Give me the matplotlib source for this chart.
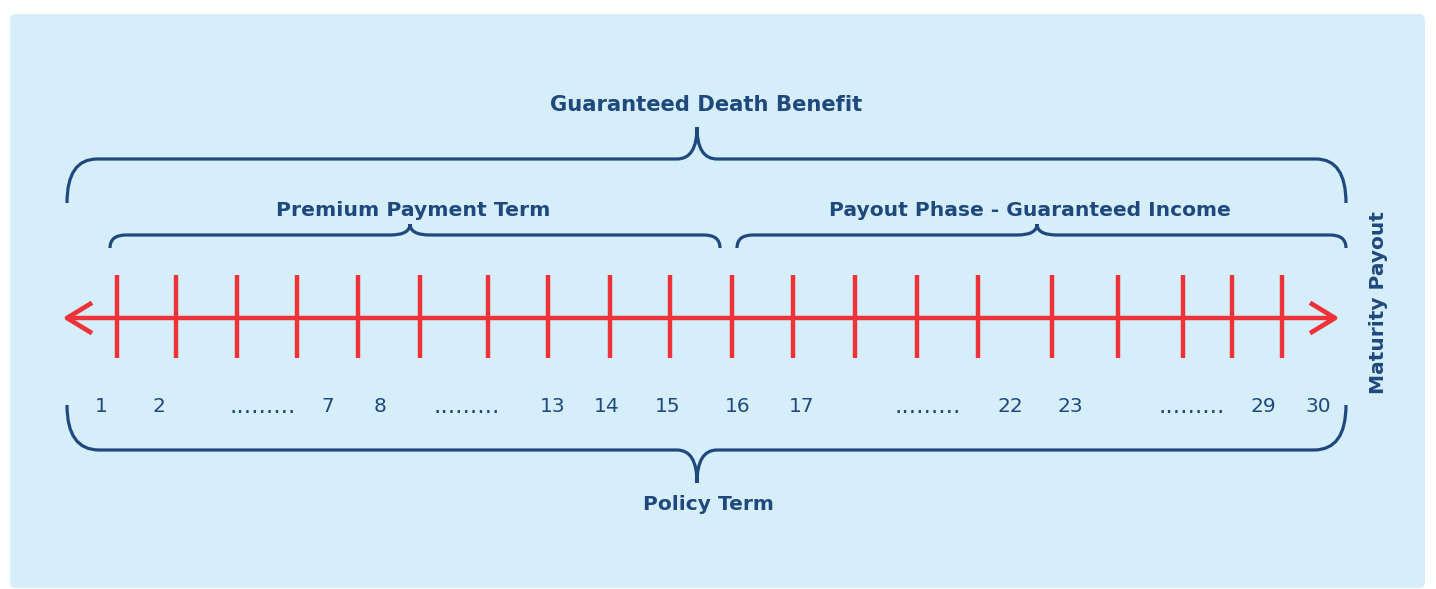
import matplotlib.pyplot as plt
from matplotlib.path import Path
from matplotlib.patches import PathPatch, FancyBboxPatch

# timeline ticks (x in pixels of the 1436x589 canvas)
tick_x = [117, 176, 237, 297, 358, 420, 488, 548, 610, 670,
          732, 793, 855, 917, 978, 1052, 1118, 1183, 1232, 1282]

# year labels under the timeline
year_labels = ['1', '2', '.........', '7', '8', '.........', '13', '14', '15',
               '16', '17', '.........', '22', '23', '.........', '29', '30']
year_x = [101, 159, 263, 328, 380, 467, 553, 607, 668,
          738, 802, 928, 1010, 1070, 1192, 1263, 1318]

# braces: (x_left, x_right, x_tip, y_line, y_end, y_tip, corner_dx)
braces = [
    (67, 1346, 697, 159, 203, 127, 30),   # Guaranteed Death Benefit
    (110, 720, 410, 235, 248, 224, 16),   # Premium Payment Term
    (737, 1346, 1037, 235, 248, 224, 16), # Payout Phase
    (67, 1346, 697, 450, 405, 483, 32),   # Policy Term
]
brace_titles = ['Guaranteed Death Benefit', 'Premium Payment Term',
                'Payout Phase - Guaranteed Income', 'Policy Term']
title_pos = [(706, 105), (413, 210), (1030, 210), (708, 505)]
title_size = [15.2, 14.7, 14.6, 14.6]

navy = '#1f497d'
red = '#ee3338'
bg = '#d6eefa'

plt.close('all')
fig = plt.figure(figsize=(14.36, 5.89), dpi=100)
ax = fig.add_axes([0, 0, 1, 1])
ax.set_xlim(0, 1436)
ax.set_ylim(589, 0)
ax.axis('off')

ax.add_patch(FancyBboxPatch((10, 14), 1415, 574, boxstyle='round,pad=0,rounding_size=6',
                            facecolor=bg, edgecolor='none'))


def brace(x0, x1, xm, y, y_end, y_tip, r, tw=20):
    # left end -> corner -> line -> tip, then tip -> line -> corner -> right end
    verts = [(x0, y_end), (x0, y), (x0 + r, y),
             (xm - tw, y), (xm, y), (xm, y_tip),
             (xm, y_tip), (xm, y), (xm + tw, y),
             (x1 - r, y), (x1, y), (x1, y_end)]
    codes = [Path.MOVETO, Path.CURVE3, Path.CURVE3,
             Path.LINETO, Path.CURVE3, Path.CURVE3,
             Path.MOVETO, Path.CURVE3, Path.CURVE3,
             Path.LINETO, Path.CURVE3, Path.CURVE3]
    ax.add_patch(PathPatch(Path(verts, codes), facecolor='none', edgecolor=navy,
                           lw=2.3, capstyle='butt'))


for b in braces:
    brace(*b)

for t, (x, y), s in zip(brace_titles, title_pos, title_size):
    ax.text(x, y, t, ha='center', va='center', fontsize=s, fontweight='bold', color=navy)

ax.text(1378, 303, 'Maturity Payout', rotation=90, ha='center', va='center',
        fontsize=14.5, fontweight='bold', color=navy)

# timeline
ax.plot([67, 1334], [318, 318], color=red, lw=3.2, solid_capstyle='butt')
ax.plot([90, 67, 90], [304, 318, 332], color=red, lw=3.4)
ax.plot([1312, 1335, 1312], [304, 318, 332], color=red, lw=3.4)
for x in tick_x:
    ax.plot([x, x], [275, 358], color=red, lw=3.2, solid_capstyle='butt')

for lab, x in zip(year_labels, year_x):
    if lab.startswith('.'):
        ax.text(x, 406, lab, ha='center', va='center', fontsize=17, color=navy)
    else:
        ax.text(x, 406, lab, ha='center', va='center', fontsize=14.5, color=navy)

fig.savefig('out.png', dpi=100, facecolor='white')
